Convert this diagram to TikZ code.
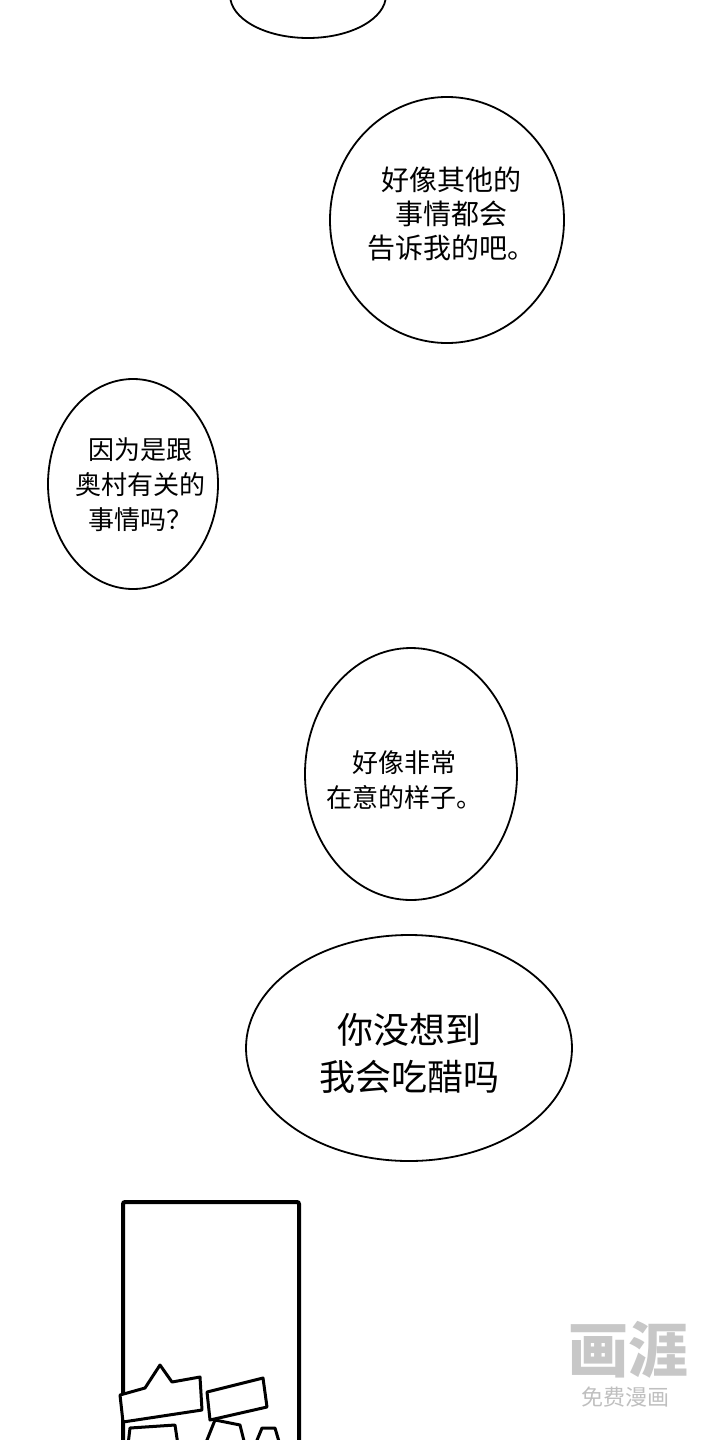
\documentclass[tikz,border=0pt]{standalone}
\usepackage{fontspec}
\newfontfamily\cjk{Noto Sans CJK SC}
\begin{document}
\begin{tikzpicture}[x=1pt,y=-1pt,
  bub/.style={draw=black,line width=1.8pt,fill=white},
  txt/.style={font=\cjk\fontsize{28}{34}\selectfont,align=center,text=black},
  sfx/.style={draw=black,line width=3pt,fill=white,line join=round}]
\useasboundingbox (0,0) rectangle (720,1440);
\fill[white] (0,0) rectangle (720,1440);
\draw[bub] (308,-5) ellipse [x radius=78, y radius=43];
\draw[bub] (447,220) ellipse [x radius=117, y radius=123];
\node[txt] (t1) at (451,214) {好像其他的\\事情都会\\告诉我的吧。};
\draw[bub] (133,484) ellipse [x radius=85, y radius=105];
\node[txt,font=\cjk\fontsize{26}{35}\selectfont] (t2) at (140,485) {因为是跟\\奥村有关的\\事情吗？};
\draw[bub] (411,774) ellipse [x radius=106, y radius=126];
\node[txt,font=\cjk\fontsize{26}{35}\selectfont] (t3) at (404,780) {好像非常\\在意的样子。};
\draw[bub] (409,1048) ellipse [x radius=163, y radius=113];
\node[txt,font=\cjk\fontsize{36}{47}\selectfont] (t4) at (409,1053) {你没想到\\我会吃醋吗};
\draw[line width=4pt,rounded corners=2pt] (123,1445) -- (123,1202) -- (299,1202) -- (299,1445);
\draw[sfx] (120,1395) -- (145,1388) -- (160,1365) -- (172,1382) -- (200,1377) -- (202,1410) -- (123,1422) -- cycle;
\draw[sfx] (207,1392) -- (263,1378) -- (267,1407) -- (210,1420) -- cycle;
\draw[sfx] (128,1445) -- (130,1428) -- (175,1425) -- (178,1445);
\draw[sfx] (205,1445) -- (215,1420) -- (240,1425) -- (245,1445);
\draw[sfx] (255,1445) -- (262,1428) -- (275,1428) -- (280,1445);
\node[font=\cjk\bfseries\fontsize{60}{60}\selectfont,text=black!22] (w1) at (628,1350) {画涯};
\node[font=\cjk\fontsize{22}{22}\selectfont,text=black!25] (w2) at (625,1397) {免费漫画};
\end{tikzpicture}
\end{document}
